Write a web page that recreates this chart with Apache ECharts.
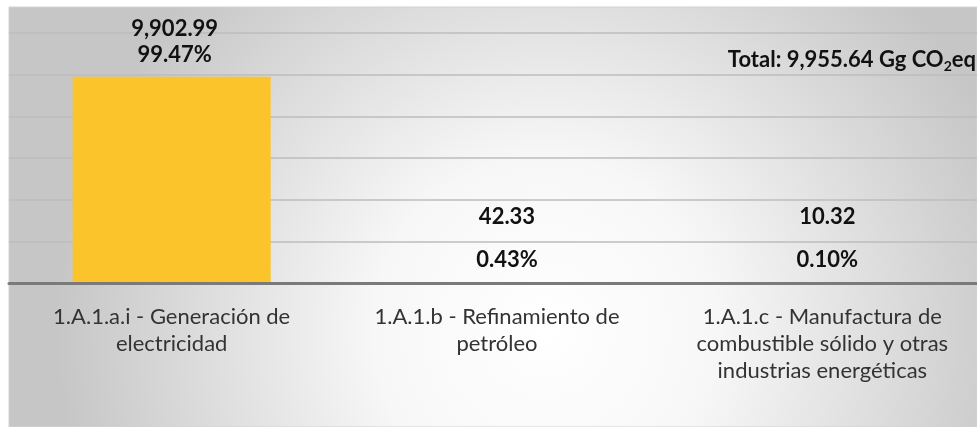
<!DOCTYPE html>
<html>
<head>
<meta charset="utf-8">
<script src="https://cdn.jsdelivr.net/npm/echarts@6/dist/echarts.min.js"></script>
<style>
  html, body { margin: 0; padding: 0; background: #fff; }
  #chart { width: 977px; height: 427px; }
</style>
</head>
<body>
<div id="chart"></div>
<script>
// datos (Gg CO2eq)
const categories = [
  '1.A.1.a.i - Generación de\nelectricidad',
  '1.A.1.b - Refinamiento de\npetróleo',
  '1.A.1.c - Manufactura de\ncombustible sólido y otras\nindustrias energéticas'
];
const emissions = [9902.99, 42.33, 10.32];
const shares = [99.47, 0.43, 0.10];
const yTicks = [0, 2000, 4000, 6000, 8000, 10000, 12000];

const fmt = v => v.toLocaleString('en-US', { minimumFractionDigits: 2, maximumFractionDigits: 2 });
const total = emissions.reduce((a, b) => a + b, 0);

const labelShift = [3, 10, 5];
const barData = emissions.map((v, i) => ({
  value: v,
  label: i === 0
    ? { distance: 9, lineHeight: 26, offset: [labelShift[i], 0] }
    : { distance: 1, lineHeight: 43, offset: [labelShift[i], 0] }
}));

const myChart = echarts.init(document.getElementById('chart'));

const option = {
  animation: false,
  graphic: [
    {
      type: 'rect',
      z: -100,
      silent: true,
      shape: { x: 9, y: 7, width: 968, height: 420 },
      style: {
        fill: {
          type: 'radial', x: 545, y: 330, r: 490, global: true,
          colorStops: [
            { offset: 0, color: '#ffffff' },
            { offset: 0.35, color: '#f7f7f7' },
            { offset: 1, color: '#c6c6c6' }
          ]
        },
        stroke: '#d2d2d2',
        lineWidth: 1
      }
    },
    {
      type: 'text',
      right: 1,
      top: 49,
      z: 10,
      style: {
        text: '{b|Total: ' + fmt(total) + ' Gg CO}{s|2}{b|eq}',
        rich: {
          b: { fontFamily: 'Lato', fontWeight: 'bold', fontSize: 22, lineHeight: 26, fill: '#111' },
          s: { fontFamily: 'Lato', fontWeight: 'bold', fontSize: 14, lineHeight: 14, verticalAlign: 'bottom', fill: '#111' }
        }
      }
    }
  ],
  grid: {
    left: 9,
    top: 33,
    width: 976,
    height: 250,
    outerBoundsMode: 'none',
    containLabel: false
  },
  xAxis: {
    type: 'category',
    data: categories,
    z: 3,
    axisTick: { show: false },
    axisLine: { lineStyle: { color: '#7a7a7a', width: 3 } },
    axisLabel: {
      interval: 0,
      margin: 20,
      fontFamily: 'Lato',
      fontSize: 22,
      lineHeight: 27,
      color: '#333'
    }
  },
  yAxis: {
    type: 'value',
    min: yTicks[0],
    max: yTicks[yTicks.length - 1],
    interval: yTicks[1] - yTicks[0],
    axisLabel: { show: false },
    axisLine: { show: false },
    axisTick: { show: false },
    splitLine: { lineStyle: { color: '#bdbdbd', width: 1.5 } }
  },
  series: [
    {
      type: 'bar',
      data: barData,
      barWidth: 198,
      itemStyle: { color: '#fbc42a' },
      label: {
        show: true,
        position: 'top',
        fontFamily: 'Lato',
        fontWeight: 'bold',
        fontSize: 22,
        color: '#111',
        formatter: p => fmt(p.value) + '\n' + shares[p.dataIndex].toFixed(2) + '%'
      }
    }
  ]
};

myChart.setOption(option);
window.addEventListener('resize', () => {
  myChart.resize();
});
</script>
</body>
</html>
